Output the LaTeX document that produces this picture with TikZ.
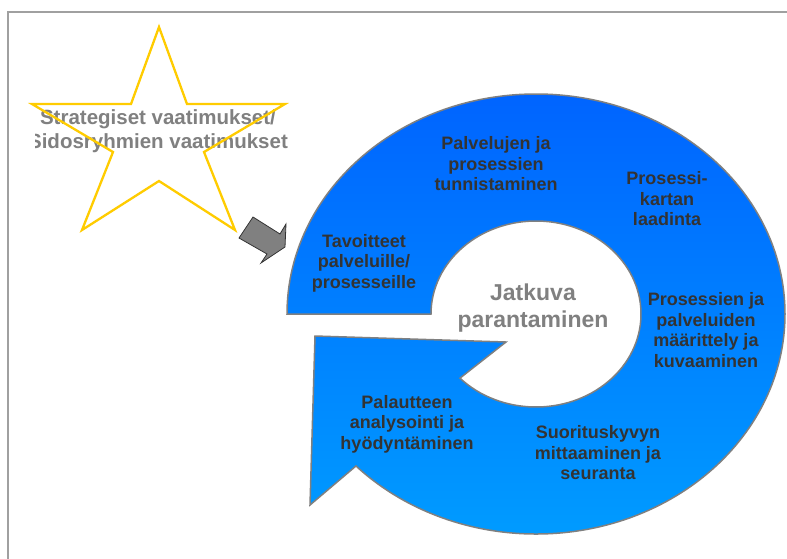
\documentclass[tikz,border=0pt]{standalone}
\usepackage{fontspec}
\setmainfont{Liberation Sans}
\definecolor{framegray}{RGB}{160,160,160}
\definecolor{edgegray}{RGB}{128,128,128}
\definecolor{ringtop}{RGB}{0,100,255}
\definecolor{ringbottom}{RGB}{0,155,255}
\definecolor{starline}{RGB}{255,204,0}
\definecolor{labeltext}{RGB}{51,51,51}
\definecolor{centertext}{RGB}{128,128,128}
\definecolor{pointerfill}{RGB}{128,128,128}
\definecolor{pointeredge}{RGB}{51,51,51}
\begin{document}
\begin{tikzpicture}[x=1pt,y=-1pt,
  ring/.style={draw=edgegray, line width=1.5pt, top color=ringtop, bottom color=ringbottom, line join=miter},
  starshape/.style={draw=starline, line width=2.3pt, line join=miter},
  pointer/.style={draw=pointeredge, fill=pointerfill, line width=0.8pt, line join=miter},
  stagelabel/.style={text=labeltext, font=\fontsize{18}{20.5}\selectfont\bfseries, align=center, inner sep=0pt},
  centerlabel/.style={text=centertext, font=\fontsize{23}{26.5}\selectfont\bfseries, align=center, inner sep=0pt},
  starlabel/.style={text=centertext, font=\fontsize{20.5}{24}\selectfont\bfseries, align=center, inner sep=0pt}]
\useasboundingbox (0,0) rectangle (787,558);
\fill[white] (0,0) rectangle (787,558);

% outer frame, running off the right and bottom edges
\draw[framegray, line width=1.6pt] (8,12) rectangle (820,590);

% circular arrow: ring from the tail at the left, clockwise to the head at lower left
\coordinate (ctr) at (536,314);
\coordinate (tailout) at ([shift={(ctr)}]180:249 and 220);
\coordinate (tailin) at ([shift={(ctr)}]180:105 and 93);
\coordinate (notchout) at ([shift={(ctr)}]136.3:249 and 220);
\coordinate (notchin) at ([shift={(ctr)}]136.4:105 and 93);
\coordinate (barblow) at (310,505);
\coordinate (headtip) at (315,336);
\coordinate (barbhigh) at (506,342);
\path[ring] (tailout)
  arc[start angle=180, end angle=496.3, x radius=249, y radius=220]
  -- (barblow) -- (headtip) -- (barbhigh) -- (notchin)
  arc[start angle=496.4, end angle=180, x radius=105, y radius=93]
  -- cycle;

% stage labels around the ring
\node[stagelabel] (goals) at (364,263) {Tavoitteet\\palveluille/\\prosesseille};
\node[stagelabel] (identify) at (496,164) {Palvelujen ja\\prosessien\\tunnistaminen};
\node[stagelabel] (mapping) at (667,199) {Prosessi-\\kartan\\laadinta};
\node[stagelabel] (define) at (706,330) {Prosessien ja\\palveluiden\\määrittely ja\\kuvaaminen};
\node[stagelabel] (measure) at (598,453) {Suorituskyvyn\\mittaaminen ja\\seuranta};
\node[stagelabel] (feedback) at (407,424) {Palautteen\\analysointi ja\\hyödyntäminen};
\node[centerlabel] (core) at (533,308) {Jatkuva\\parantaminen};

% requirements star with its text, the text box trimmed at its left side
\begin{scope}
  \clip (35,90) rectangle (320,170);
  \node[starlabel] (reqs) at (158,131) {Strategiset vaatimukset/\\Sidosryhmien vaatimukset};
\end{scope}
\draw[starshape] (159,27) -- (187,104) -- (285,104) -- (204,152) -- (235,230)
  -- (159,181) -- (82,230) -- (113,152) -- (32,104) -- (131,104) -- cycle;

% block arrow feeding the star into the ring
\draw[pointer] (239,238) -- (253,217) -- (280,234) -- (286,224) -- (285,247)
  -- (261,263) -- (267,254) -- cycle;
\end{tikzpicture}
\end{document}
